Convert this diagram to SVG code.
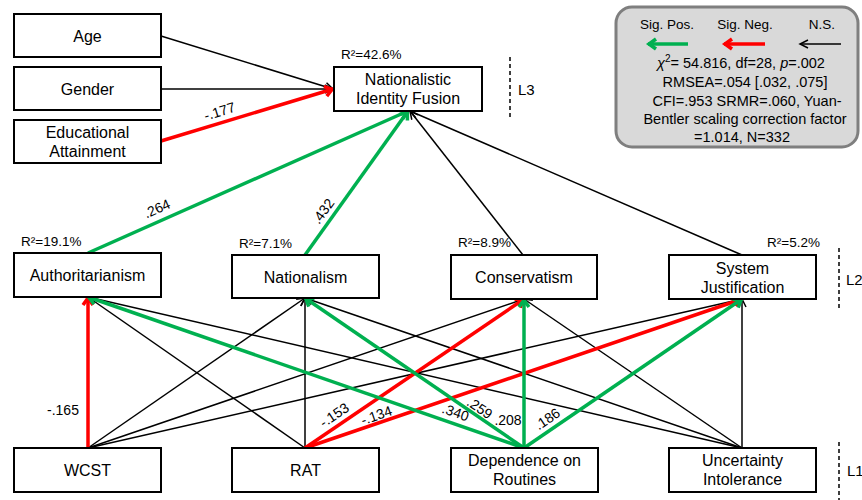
<svg xmlns="http://www.w3.org/2000/svg" width="862" height="500" viewBox="0 0 862 500">
<style>
text{font-family:"Liberation Sans",Arial,sans-serif;fill:#000}
.box rect{fill:#fff;stroke:#000;stroke-width:2}
.box text{font-size:16px;text-anchor:middle}
.ns{stroke:#000;stroke-width:1.5;fill:none;marker-end:url(#ab)}
.neg{stroke:#ff0000;stroke-width:3.5;fill:none;marker-end:url(#ar)}
.pos{stroke:#00b050;stroke-width:3.5;fill:none;marker-end:url(#ag)}
.lbl{font-size:14px;text-anchor:middle}
.r2{font-size:13.5px}
.lvl{font-size:15px}
.dash{stroke:#000;stroke-width:1.5;stroke-dasharray:4 3}
.leg{font-size:14.5px;text-anchor:middle}
</style>
<defs>
<marker id="ab" markerUnits="userSpaceOnUse" orient="auto" markerWidth="30" markerHeight="30" viewBox="-15 -15 30 30" refX="0" refY="0" overflow="visible">
<path d="M-8,-4 L0,0 L-8,4" fill="none" stroke="#000" stroke-width="1.5"/>
</marker>
<marker id="ar" markerUnits="userSpaceOnUse" orient="auto" markerWidth="30" markerHeight="30" viewBox="-15 -15 30 30" refX="0" refY="0" overflow="visible">
<path d="M-8,-5 L-1,0 L-8,5" fill="none" stroke="#ff0000" stroke-width="3.5"/>
</marker>
<marker id="ag" markerUnits="userSpaceOnUse" orient="auto" markerWidth="30" markerHeight="30" viewBox="-15 -15 30 30" refX="0" refY="0" overflow="visible">
<path d="M-8,-5 L-1,0 L-8,5" fill="none" stroke="#00b050" stroke-width="3.5"/>
</marker>
</defs>

<g id="connectors">
<!-- controls to NIF -->
<line class="ns" x1="161" y1="36" x2="333" y2="89"/>
<line class="ns" x1="161" y1="89" x2="333" y2="89"/>
<line class="neg" x1="161" y1="141" x2="333" y2="89"/>
<!-- L2 to NIF -->
<line class="ns" x1="523" y1="255" x2="410" y2="111"/>
<line class="ns" x1="742" y1="255" x2="410" y2="111"/>
<line class="pos" x1="88" y1="253" x2="408" y2="111"/>
<line class="pos" x1="305" y1="255" x2="408" y2="111"/>
<!-- L1 to L2 black -->
<line class="ns" x1="88" y1="448" x2="305" y2="298"/>
<line class="ns" x1="88" y1="448" x2="524" y2="299"/>
<line class="ns" x1="88" y1="448" x2="742" y2="299"/>
<line class="ns" x1="305" y1="448" x2="88" y2="297"/>
<line class="ns" x1="305" y1="448" x2="305" y2="298"/>
<line class="ns" x1="742" y1="448" x2="88" y2="297"/>
<line class="ns" x1="742" y1="448" x2="305" y2="298"/>
<line class="ns" x1="742" y1="448" x2="524" y2="299"/>
<line class="ns" x1="742" y1="448" x2="742" y2="299"/>
<!-- red -->
<line class="neg" x1="88" y1="448" x2="88" y2="297"/>
<line class="neg" x1="305" y1="448" x2="524" y2="299"/>
<line class="neg" x1="305" y1="448" x2="742" y2="299"/>
<!-- green -->
<line class="pos" x1="524" y1="448" x2="88" y2="297"/>
<line class="pos" x1="524" y1="448" x2="305" y2="298"/>
<line class="pos" x1="524" y1="448" x2="524" y2="299"/>
<line class="pos" x1="524" y1="448" x2="742" y2="299"/>
<!-- labels -->
<text class="lbl" transform="translate(221,116) rotate(-17)">-.177</text>
<text class="lbl" transform="translate(159,213) rotate(-24)">.264</text>
<text class="lbl" transform="translate(327,214) rotate(-54)">.432</text>
<text class="lbl" x="63" y="415">-.165</text>
<text class="lbl" transform="translate(337,419) rotate(-34)">-.153</text>
<text class="lbl" transform="translate(378,420) rotate(-19)">-.134</text>
<text class="lbl" transform="translate(454,417) rotate(19)">.340</text>
<text class="lbl" transform="translate(477,412) rotate(34)">.259</text>
<text class="lbl" x="508" y="425">.208</text>
<text class="lbl" transform="translate(550,423) rotate(-34)">.186</text>
</g>

<g id="age" class="box"><rect x="14" y="14" width="147" height="43"/><text x="87.5" y="42">Age</text></g>
<g id="gender" class="box"><rect x="14" y="67" width="147" height="43"/><text x="87.5" y="95">Gender</text></g>
<g id="education" class="box"><rect x="14" y="120" width="147" height="43"/><text x="87.5" y="138">Educational</text><text x="87.5" y="157">Attainment</text></g>

<g id="nif" class="box"><rect x="334" y="67" width="148" height="44"/><text x="408" y="85">Nationalistic</text><text x="408" y="104">Identity Fusion</text><text class="r2" x="341" y="59" style="text-anchor:start;font-size:13.5px">R²=42.6%</text></g>

<g id="authoritarianism" class="box"><rect x="14" y="253" width="147" height="44"/><text x="87.5" y="281">Authoritarianism</text><text x="21" y="246" style="text-anchor:start;font-size:13.5px">R²=19.1%</text></g>
<g id="nationalism" class="box"><rect x="232" y="255" width="147" height="43"/><text x="305.5" y="283">Nationalism</text><text x="239" y="248" style="text-anchor:start;font-size:13.5px">R²=7.1%</text></g>
<g id="conservatism" class="box"><rect x="451" y="255" width="146" height="44"/><text x="524" y="283">Conservatism</text><text x="458" y="247" style="text-anchor:start;font-size:13.5px">R²=8.9%</text></g>
<g id="system-justification" class="box"><rect x="669" y="255" width="147" height="44"/><text x="742.5" y="274">System</text><text x="742.5" y="293">Justification</text><text x="767" y="247" style="text-anchor:start;font-size:13.5px">R²=5.2%</text></g>

<g id="wcst" class="box"><rect x="14" y="448" width="147" height="44"/><text x="87.5" y="476">WCST</text></g>
<g id="rat" class="box"><rect x="232" y="448" width="147" height="44"/><text x="305.5" y="476">RAT</text></g>
<g id="dependence" class="box"><rect x="451" y="448" width="147" height="44"/><text x="524.5" y="466">Dependence on</text><text x="524.5" y="485">Routines</text></g>
<g id="uncertainty" class="box"><rect x="669" y="448" width="147" height="44"/><text x="742.5" y="466">Uncertainty</text><text x="742.5" y="485">Intolerance</text></g>

<g id="levels">
<line class="dash" x1="510" y1="57" x2="510" y2="118"/>
<text class="lvl" x="518" y="95">L3</text>
<line class="dash" x1="839" y1="248" x2="839" y2="309"/>
<text class="lvl" x="846" y="285">L2</text>
<line class="dash" x1="839" y1="442" x2="839" y2="500"/>
<text class="lvl" x="847" y="476">L1</text>
</g>

<g id="legend">
<rect x="616" y="7" width="242" height="140" rx="16" fill="#d9d9d9" stroke="#7f7f7f" stroke-width="3"/>
<text class="leg" x="667" y="29" style="font-size:13.5px">Sig. Pos.</text>
<text class="leg" x="745" y="29" style="font-size:13.5px">Sig. Neg.</text>
<text class="leg" x="822" y="29" style="font-size:13.5px">N.S.</text>
<line x1="688" y1="44" x2="648" y2="44" stroke="#00b050" stroke-width="3.5" marker-end="url(#ag)"/>
<line x1="765" y1="44" x2="724" y2="44" stroke="#ff0000" stroke-width="3.5" marker-end="url(#ar)"/>
<line x1="841" y1="44" x2="800" y2="44" stroke="#000" stroke-width="1.5" marker-end="url(#ab)"/>
<text class="leg" x="741" y="68"><tspan font-style="italic">χ</tspan><tspan dy="-6" font-size="10">2</tspan><tspan dy="6">= 54.816, df=28, </tspan><tspan font-style="italic">p</tspan>=.002</text>
<text class="leg" x="745" y="87">RMSEA=.054 [.032, .075]</text>
<text class="leg" x="747" y="106">CFI=.953 SRMR=.060, Yuan-</text>
<text class="leg" x="745" y="124">Bentler scaling correction factor</text>
<text class="leg" x="742" y="142">=1.014, N=332</text>
</g>
</svg>
